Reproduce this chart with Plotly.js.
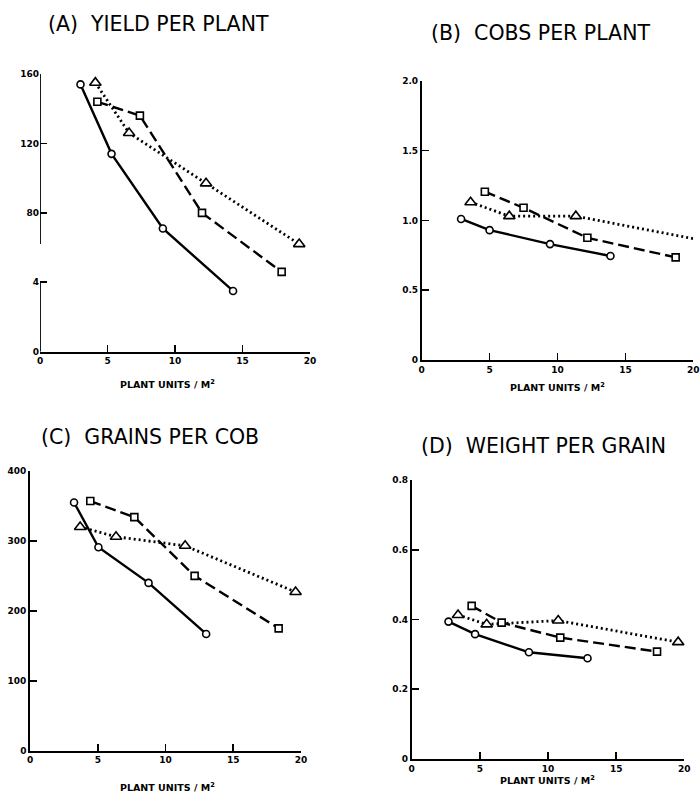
<!DOCTYPE html>
<html><head><meta charset="utf-8">
<script src="https://cdn.plot.ly/plotly-3.0.1.min.js"></script>
<style>body{margin:0;background:#fff}#plot{width:700px;height:801px}</style>
</head><body><div id="plot"></div>
<script>
// Panel A: yield per plant
const yieldCircleX = [3.0, 5.3, 9.1, 14.3];
const yieldCircleY = [154, 114, 71, 35];
const yieldSquareX = [4.25, 7.4, 12.0, 17.9];
const yieldSquareY = [144, 136, 80, 46];
const yieldTriX = [4.1, 6.6, 12.3, 19.2];
const yieldTriY = [155, 126, 97, 62];
// Panel B: cobs per plant
const cobsCircleX = [2.9, 5.0, 9.45, 13.9];
const cobsCircleY = [1.01, 0.93, 0.83, 0.745];
const cobsSquareX = [4.65, 7.5, 12.2, 18.7];
const cobsSquareY = [1.205, 1.09, 0.875, 0.735];
const cobsTriX = [3.6, 6.45, 11.35, 20.2];
const cobsTriY = [1.13, 1.03, 1.03, 0.865];
// Panel C: grains per cob
const grainsCircleX = [3.25, 5.05, 8.75, 13.0];
const grainsCircleY = [355, 291, 240, 167];
const grainsSquareX = [4.45, 7.7, 12.15, 18.35];
const grainsSquareY = [357, 334, 250, 175];
const grainsTriX = [3.7, 6.35, 11.45, 19.6];
const grainsTriY = [320, 306, 293, 227];
// Panel D: weight per grain
const weightCircleX = [2.7, 4.65, 8.6, 12.9];
const weightCircleY = [0.394, 0.358, 0.306, 0.289];
const weightSquareX = [4.4, 6.6, 10.9, 18.0];
const weightSquareY = [0.439, 0.391, 0.348, 0.308];
const weightTriX = [3.4, 5.5, 10.75, 19.55];
const weightTriY = [0.413, 0.386, 0.397, 0.335];

const xTicks = [0, 5, 10, 15, 20];
const xTickText = ["0", "5", "10", "15", "20"];
const yTicksA = [0, 40, 80, 120, 160];
const yTickTextA = ["0", "4", "80", "120", "160"];
const yTicksB = [0, 0.5, 1.0, 1.5, 2.0];
const yTickTextB = ["0", "0.5", "1.0", "1.5", "2.0"];
const yTicksC = [0, 100, 200, 300, 400];
const yTickTextC = ["0", "100", "200", "300", "400"];
const yTicksD = [0, 0.2, 0.4, 0.6, 0.8];
const yTickTextD = ["0", "0.2", "0.4", "0.6", "0.8"];

const panelTitles = ["(A)  YIELD PER PLANT", "(B)  COBS PER PLANT", "(C)  GRAINS PER COB", "(D)  WEIGHT PER GRAIN"];
const xTitle = "PLANT UNITS / M<sup>2</sup>";

const symSize = {'circle': 7, 'square': 7, 'triangle-up': 10};
function series(xs, ys, dash, ax) {
  return {x: xs, y: ys, type: 'scatter', mode: 'lines', cliponaxis: false,
    xaxis: 'x' + ax, yaxis: 'y' + ax,
    line: {color: '#000', width: dash === 'dot' ? 2.8 : 2.4, dash: dash === 'dash' ? '11px,5px' : (dash === 'dot' ? '2px,3px' : dash)},
    showlegend: false, hoverinfo: 'skip'};
}
const data = [];
const panels = [
  [yieldCircleX, yieldCircleY, yieldSquareX, yieldSquareY, yieldTriX, yieldTriY, ''],
  [cobsCircleX, cobsCircleY, cobsSquareX, cobsSquareY, cobsTriX, cobsTriY, '2'],
  [grainsCircleX, grainsCircleY, grainsSquareX, grainsSquareY, grainsTriX, grainsTriY, '3'],
  [weightCircleX, weightCircleY, weightSquareX, weightSquareY, weightTriX, weightTriY, '4']
];
panels.forEach(p => {
  data.push(series(p[4], p[5], 'dot', p[6]));
  data.push(series(p[2], p[3], 'dash', p[6]));
  data.push(series(p[0], p[1], 'solid', p[6]));
});
panels.forEach(p => {
  [[p[4], p[5], 'triangle-up'], [p[2], p[3], 'square'], [p[0], p[1], 'circle']].forEach(s => {
    data.push({x: s[0], y: s[1], type: 'scatter', mode: 'markers', cliponaxis: false,
      xaxis: 'x' + p[6], yaxis: 'y' + p[6],
      marker: {symbol: s[2], size: symSize[s[2]], color: '#fff', line: {color: '#000', width: 1.6}},
      showlegend: false, hoverinfo: 'skip'});
  });
});

const tickFont = {family: 'DejaVu Sans', size: 9, color: '#000', weight: 'bold'};
function xa(dom) {
  return {domain: dom, range: [0, 20], tickvals: xTicks, ticktext: xTickText, ticks: 'inside',
    ticklen: 7, tickwidth: 1.6, tickcolor: '#000', showline: true, linecolor: '#000', linewidth: 1.8,
    showgrid: false, zeroline: false, tickfont: tickFont, fixedrange: true};
}
function ya(dom, rng, tv, tt, anchor, showline) {
  return {domain: dom, range: rng, tickvals: tv, ticktext: tt, ticks: 'inside', anchor: anchor,
    ticklen: 7, tickwidth: 1.6, tickcolor: '#000', showline: showline, linecolor: '#000', linewidth: 1.8,
    showgrid: false, zeroline: false, tickfont: tickFont, fixedrange: true};
}
const W = 700, H = 801;
const dx = (a, b) => [a / W, b / W];
const dy = (top, bot) => [1 - bot / H, 1 - top / H];

const layout = {
  width: 700, height: 801, margin: {l: 0, r: 0, t: 0, b: 0},
  paper_bgcolor: '#fff', plot_bgcolor: 'rgba(0,0,0,0)', showlegend: false,
  xaxis: Object.assign(xa(dx(40, 310)), {anchor: 'y'}),
  yaxis: ya(dy(74, 351.7), [0, 160], yTicksA, yTickTextA, 'x', false),
  xaxis2: Object.assign(xa(dx(421.7, 693.3)), {anchor: 'y2'}),
  yaxis2: ya(dy(80.7, 360), [0, 2], yTicksB, yTickTextB, 'x2', true),
  xaxis3: Object.assign(xa(dx(30, 301)), {anchor: 'y3'}),
  yaxis3: ya(dy(471, 750.7), [0, 400], yTicksC, yTickTextC, 'x3', true),
  xaxis4: Object.assign(xa(dx(411.7, 684.3)), {anchor: 'y4'}),
  yaxis4: ya(dy(480, 759), [0, 0.8], yTicksD, yTickTextD, 'x4', true),
  shapes: [
    {type: 'line', xref: 'x', yref: 'y', x0: 0, x1: 0, y0: 0, y1: 40, line: {color: '#000', width: 1.8}},
    {type: 'line', xref: 'x', yref: 'y', x0: 0, x1: 0, y0: 62, y1: 160, line: {color: '#000', width: 1.8}}
  ],
  annotations: []
};
const titlePos = [[158, 24], [540, 33], [150, 437], [543, 446]];
const xTitlePos = [[167, 384], [557, 387], [167, 787], [547, 780]];
titlePos.forEach((p, i) => {
  layout.annotations.push({text: panelTitles[i], xref: 'paper', yref: 'paper', x: p[0] / W, y: 1 - p[1] / H,
    xanchor: 'center', yanchor: 'middle', showarrow: false,
    font: {family: 'DejaVu Sans', size: 20.5, color: '#000', weight: 'normal'}});
});
xTitlePos.forEach((p, i) => {
  layout.annotations.push({text: xTitle, xref: 'paper', yref: 'paper', x: p[0] / W, y: 1 - p[1] / H,
    xanchor: 'center', yanchor: 'middle', showarrow: false,
    font: {family: 'DejaVu Sans', size: 9.5, color: '#000', weight: 'bold'}});
});
Plotly.newPlot('plot', data, layout, {staticPlot: true});
</script>
</body></html>
